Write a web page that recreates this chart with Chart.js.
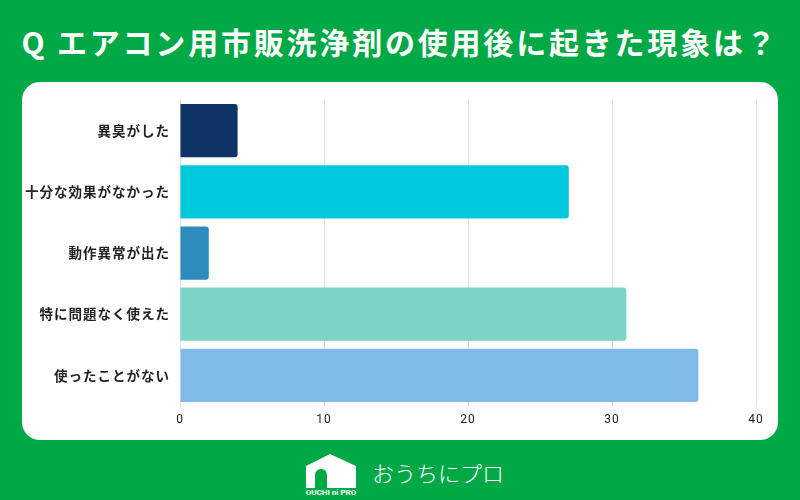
<!DOCTYPE html>
<html>
<head>
<meta charset="utf-8">
<script src="https://cdn.jsdelivr.net/npm/chart.js@4"></script>
<style>
  body { margin: 0; width: 800px; height: 500px; background: #00a846; position: relative; overflow: hidden; font-family: "Noto Sans CJK JP", sans-serif; }
  #title { position: absolute; left: 0; top: 17px; width: 800px; text-align: center; color: #fff; font-size: 30px; line-height: 48px; font-weight: bold; letter-spacing: 2.8px; }
  #panel { position: absolute; left: 22px; top: 82px; width: 756px; height: 358px; background: #fff; border-radius: 18px; }
  #panel canvas { position: absolute; left: 0; top: 0; }
  #logo { position: absolute; left: 304px; top: 452px; height: 42px; }
  #logo svg { position: absolute; left: 0; top: 0; }
  #logo .brand { position: absolute; left: 68px; top: 4px; color: #fff; font-size: 22px; font-weight: 300; white-space: nowrap; letter-spacing: 0; }
</style>
</head>
<body>
<div id="title">Q エアコン用市販洗浄剤の使用後に起きた現象は？</div>
<div id="panel"><canvas id="myBarChart" width="756" height="358"></canvas></div>
<div id="logo">
  <svg width="56" height="44" viewBox="0 0 56 44">
    <path d="M2 14 L26 2 L52 14 L52 36 L2 36 Z" fill="#fff"/>
    <path d="M11 36 L11 24 Q11 17 17 17 Q23 17 23 24 L23 36 Z" fill="#00a846"/>
    <text x="27" y="43" fill="#fff" font-size="8" font-family="Roboto, sans-serif" text-anchor="middle" font-weight="bold">OUCHI ni PRO</text>
  </svg>
  <div class="brand">おうちにプロ</div>
</div>
<script>
const labels = ['異臭がした', '十分な効果がなかった', '動作異常が出た', '特に問題なく使えた', '使ったことがない'];
const counts = [4, 27, 2, 31, 36];
const barColors = ['#0d3464', '#00c9db', '#2e8bbd', '#7bd5c4', '#80bbe8'];
const xTicks = [0, 10, 20, 30, 40];

// spaced-out label text like the original
const spacing = {
  id: 'spacing',
  beforeDraw(chart) { chart.ctx.letterSpacing = '1px'; }
};

const ctx = document.getElementById('myBarChart').getContext('2d');
new Chart(ctx, {
  type: 'bar',
  data: {
    labels: labels,
    datasets: [{
      data: counts,
      backgroundColor: barColors,
      borderRadius: 3,
      borderSkipped: 'left',
      categoryPercentage: 1,
      barPercentage: 0.87
    }]
  },
  options: {
    indexAxis: 'y',
    responsive: false,
    animation: false,
    layout: { padding: { top: 15, right: 22, bottom: 0, left: 0 } },
    plugins: {
      legend: { display: false },
      tooltip: { enabled: false }
    },
    scales: {
      x: {
        min: 0,
        max: 40,
        afterBuildTicks: axis => { axis.ticks = xTicks.map(v => ({ value: v })); },
        afterFit: axis => { axis.height = 34; },
        grid: { color: '#e2e2e2', drawTicks: false },
        border: { display: false },
        ticks: { padding: 7, color: '#222', font: { family: 'Roboto', size: 12 } }
      },
      y: {
        afterFit: axis => { axis.width = 158; },
        grid: { display: false, drawTicks: false },
        border: { display: false },
        ticks: { padding: 10, color: '#222', font: { family: '"Noto Sans CJK JP"', size: 13.5, weight: 'bold' } }
      }
    }
  },
  plugins: [spacing]
});
</script>
</body>
</html>
